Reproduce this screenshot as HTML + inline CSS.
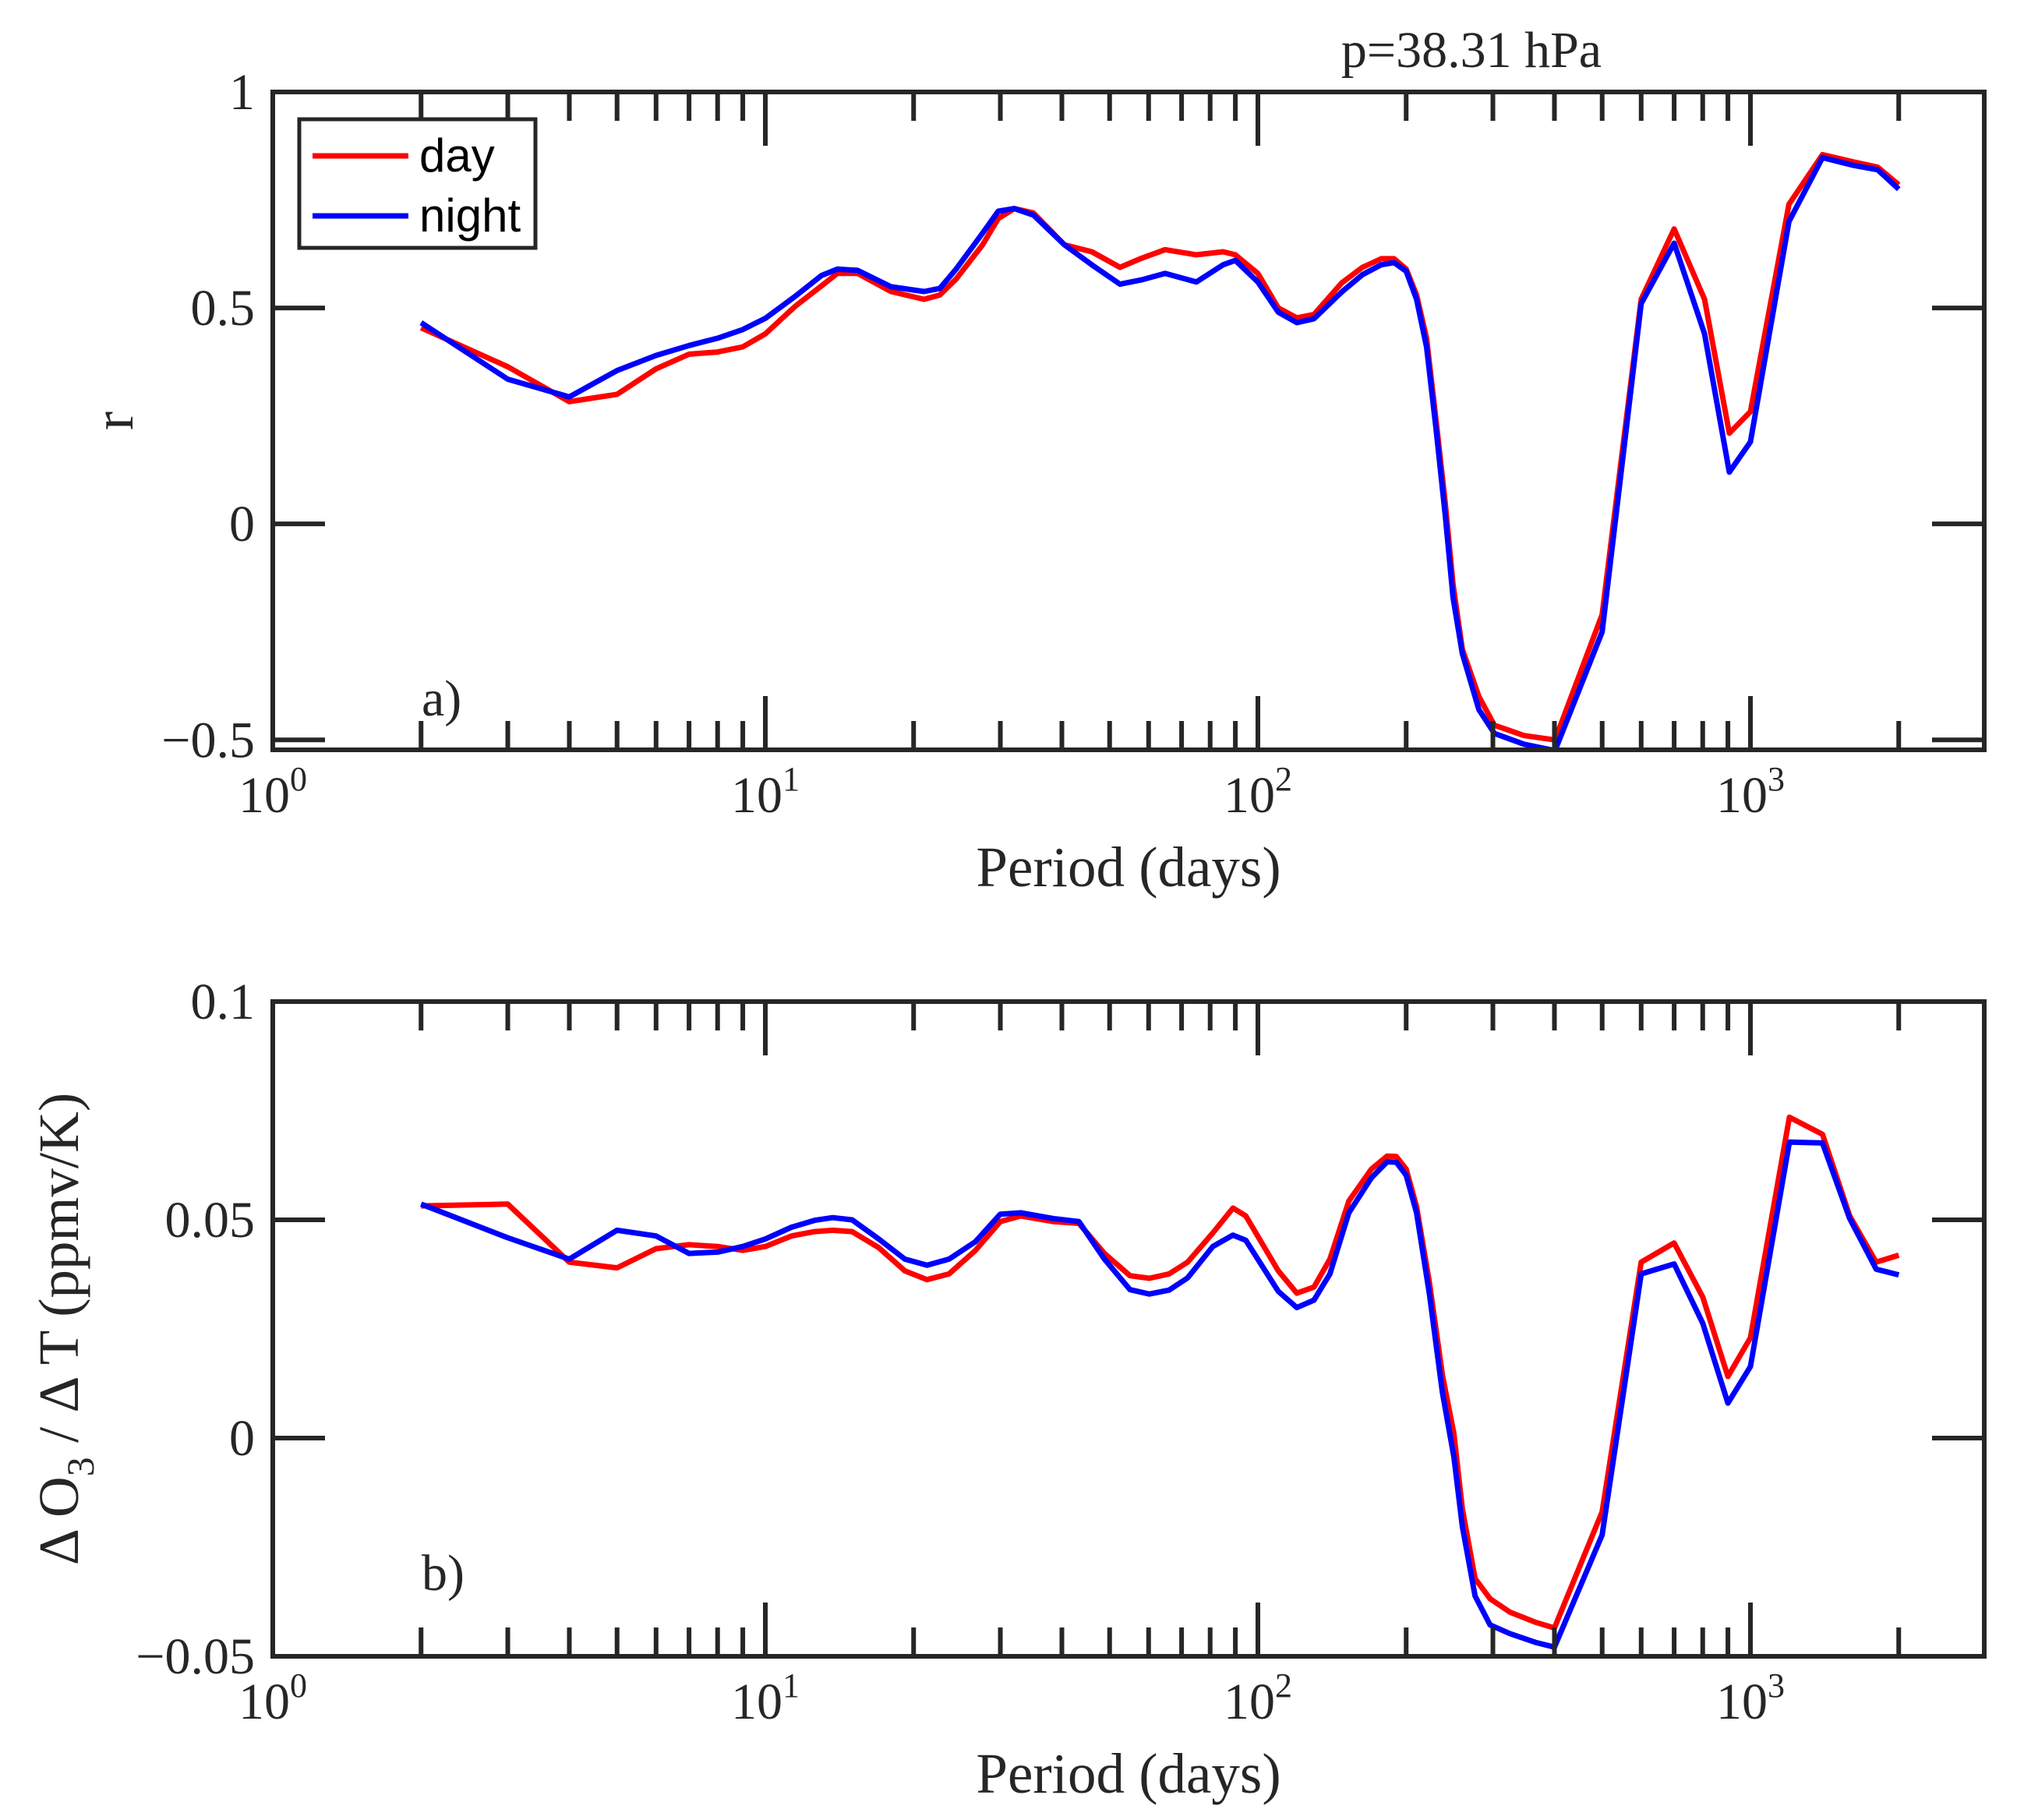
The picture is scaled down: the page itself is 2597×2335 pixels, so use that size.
<!DOCTYPE html>
<html><head><meta charset="utf-8"><style>
html,body{margin:0;padding:0;background:#fff;}
svg{display:block;}
.tk{font-family:"Liberation Serif",serif;font-size:66px;fill:#262626;}
.lb{font-family:"Liberation Serif",serif;font-size:66px;fill:#262626;}
.xl{font-family:"Liberation Serif",serif;font-size:73px;fill:#262626;}
.lg{font-family:"Liberation Sans",sans-serif;font-size:60px;fill:#000;}
</style></head><body>
<svg id="fig" width="2597" height="2335" viewBox="0 0 2597 2335" xmlns="http://www.w3.org/2000/svg">
<rect width="2597" height="2335" fill="#fff"/>
<defs>
<clipPath id="clipA"><rect x="350" y="118" width="2196" height="844"/></clipPath>
<clipPath id="clipB"><rect x="350" y="1285" width="2196" height="840"/></clipPath>
</defs>
<text x="1888" y="86" text-anchor="middle" class="lb">p=38.31 hPa</text>
<g id="panelA"></g>
<g id="panelB"></g>
</svg>
<script>
const periodsA = [2,3,4,5,6,7,8,9,10,11.5,13,14,15.4,18,21,22.6,24.4,27.6,29.7,32,35,40.5,46,52.5,58,64.8,75,85,90,100,110,120,130,148,163,178,189,200,210,220,230,240,249,260,281,302,347,401,500,600,700,807,906,1000,1197,1400,1620,1812,2000];
const dayA = [.454,.364,.283,.30,.359,.393,.398,.41,.44,.504,.551,.58,.58,.538,.52,.53,.567,.646,.707,.73,.72,.646,.63,.594,.615,.635,.623,.63,.623,.58,.50,.477,.485,.558,.594,.614,.614,.59,.53,.43,.24,.05,-.14,-.29,-.40,-.466,-.49,-.50,-.21,.52,.683,.52,.21,.26,.74,.855,.838,.826,.785];
const nightA = [.466,.335,.294,.355,.39,.413,.43,.45,.476,.527,.575,.59,.587,.549,.538,.545,.59,.673,.724,.73,.715,.646,.60,.555,.565,.58,.56,.60,.61,.56,.49,.466,.475,.537,.577,.60,.605,.585,.52,.41,.22,.022,-.17,-.30,-.43,-.485,-.51,-.525,-.25,.51,.65,.44,.12,.19,.70,.848,.83,.82,.775];

const periodsB = [2,3,4,5,6,7,8,9,10,11.3,12.6,13.7,15,17,19.2,21.3,23.6,26.7,30,33,38.4,43.3,48.8,55,60.2,66,72,81,89,94.5,110,120,130,140,153,170,183,191,200,210,223,237,250,260,276,296,325,366,400,500,600,700,800,900,1000,1200,1400,1590,1800,2000];
const dayB = [.0532,.0536,.0403,.039,.0434,.0443,.0439,.043,.0439,.0463,.0473,.0476,.0473,.0436,.0383,.0363,.0376,.043,.0496,.0509,.0496,.0492,.0423,.0372,.0366,.0376,.0403,.047,.0527,.0509,.0383,.0332,.0346,.041,.0543,.0616,.0646,.0645,.0616,.053,.0356,.0144,.001,-.0162,-.0322,-.0368,-.0399,-.0422,-.0435,-.0169,.0403,.0447,.0323,.0141,.023,.0735,.0696,.0509,.0403,.0419];
const nightB = [.0536,.0459,.041,.0476,.0463,.0423,.0426,.0439,.0456,.0483,.0499,.0505,.05,.0456,.041,.0396,.041,.045,.0513,.0516,.0503,.0496,.041,.034,.033,.0339,.0367,.0439,.0465,.0453,.0336,.0299,.0316,.0376,.0516,.0596,.0633,.0632,.0602,.0516,.033,.0104,-.0043,-.0202,-.0362,-.0428,-.0448,-.0468,-.0479,-.0222,.0376,.0399,.0263,.008,.0164,.0678,.0676,.0503,.0387,.0374];

const yTicksA = [-0.5,0,0.5,1];
const yTickLabelsA = ["\u22120.5","0","0.5","1"];
const yTicksB = [-0.05,0,0.05,0.1];
const yTickLabelsB = ["\u22120.05","0","0.05","0.1"];
const decades = [0,1,2,3];

const NS = "http://www.w3.org/2000/svg";
function mk(tag, attrs, parent){
  const e = document.createElementNS(NS, tag);
  for (const k in attrs) e.setAttribute(k, attrs[k]);
  parent.appendChild(e);
  return e;
}
const X0 = 350, X1 = 2546, DEC = 632;
function xs(p){ return X0 + Math.log10(p) * DEC; }

function drawPanel(g, top, bot, ymin, ymax, yt, ytl, periods, day, night, clip, tag, tagY, ylabelX){
  const ys = v => bot - (v - ymin) / (ymax - ymin) * (bot - top);
  const C = "#262626";
  [[day,"#ff0000","day"],[night,"#0000ff","night"]].forEach(([arr,col,nm])=>{
    let d = "";
    for (let i=0;i<arr.length;i++) d += (i?"L":"M") + xs(periods[i]).toFixed(1) + "," + ys(arr[i]).toFixed(1);
    const p = mk("path",{d:d,fill:"none",stroke:col,"stroke-width":7,"stroke-linejoin":"round","clip-path":"url(#"+clip+")"},g);
    
    
  });
  for (let dcd=0; dcd<=3; dcd++){
    for (let m=1; m<=9; m++){
      const v = m*Math.pow(10,dcd);
      const x = xs(v);
      if (x > X1 - 2) continue;
      const L = m===1 ? 69 : 37;
      if (m===1 && dcd===0) continue;
      const t1 = mk("line",{x1:x,x2:x,y1:bot,y2:bot-L,stroke:C,"stroke-width":6},g);
      
      
      const t2 = mk("line",{x1:x,x2:x,y1:top,y2:top+L,stroke:C,"stroke-width":6},g);
      
      
    }
  }
  decades.forEach(dcd=>{
    const x = xs(Math.pow(10,dcd));
    const t = mk("text",{x:x,y:bot+80,"text-anchor":"middle",class:"tk"},g);
    
    
    t.appendChild(document.createTextNode("10"));
    const s = mk("tspan",{dy:-28,"font-size":44},t);
    s.textContent = String(dcd);
  });
  yt.forEach((v,i)=>{
    const y = ys(v);
    const a = mk("line",{x1:X0,x2:X0+67,y1:y,y2:y,stroke:C,"stroke-width":6},g);
    
    
    const b = mk("line",{x1:X1,x2:X1-67,y1:y,y2:y,stroke:C,"stroke-width":6},g);
    
    
    const t = mk("text",{x:327,y:y+22,"text-anchor":"end",class:"tk"},g);
    
    
    t.textContent = ytl[i];
  });
  const box = mk("rect",{x:X0,y:top,width:X1-X0,height:bot-top,fill:"none",stroke:C,"stroke-width":6},g);
  
  
  const tg = mk("text",{x:541,y:tagY,class:"lb"},g);
  
  
  tg.textContent = tag + ")";
  const xl = mk("text",{x:1448,y:bot+175,"text-anchor":"middle",class:"xl"},g);
  
  
  xl.textContent = "Period (days)";
  const cy = (top+bot)/2;
  const yl = mk("text",{x:ylabelX,y:cy,"text-anchor":"middle",class:"xl",transform:"rotate(-90 "+ylabelX+" "+cy+")"},g);
  
  
  return yl;
}

const gA = document.getElementById("panelA");
const ylA = drawPanel(gA,118,962,-0.523,1,yTicksA,yTickLabelsA,periodsA,dayA,nightA,"clipA","a",918,170);
ylA.textContent = "r";
const gB = document.getElementById("panelB");
const ylB = drawPanel(gB,1285,2125,-0.05,0.1,yTicksB,yTickLabelsB,periodsB,dayB,nightB,"clipB","b",2040,100);
ylB.setAttribute("font-size","78");
ylB.appendChild(document.createTextNode("\u0394 O"));
const sub = mk("tspan",{dy:20,"font-size":50},ylB); sub.textContent="3";
const rest = mk("tspan",{dy:-20},ylB); rest.textContent=" / \u0394 T (ppmv/K)";

const lg = mk("g",{},gA);


mk("rect",{x:384,y:153,width:303,height:165,fill:"#fff",stroke:"#262626","stroke-width":5},lg);
const l1 = mk("line",{x1:401,x2:524,y1:200,y2:200,stroke:"#ff0000","stroke-width":7},lg);


const l2 = mk("line",{x1:401,x2:524,y1:277,y2:277,stroke:"#0000ff","stroke-width":7},lg);


const tx1 = mk("text",{x:538,y:220,class:"lg"},lg); tx1.textContent="day";


const tx2 = mk("text",{x:538,y:297,class:"lg"},lg); tx2.textContent="night";


</script>
</body></html>
